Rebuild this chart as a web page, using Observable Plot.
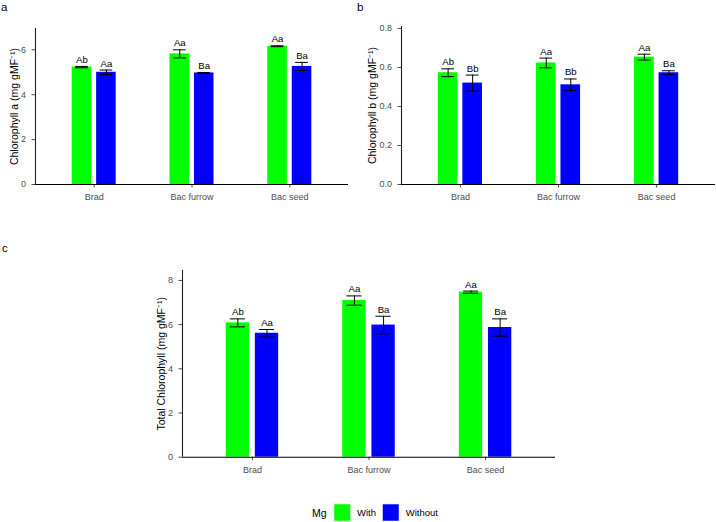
<!DOCTYPE html>
<html>
<head>
<meta charset="utf-8">
<script src="https://cdn.jsdelivr.net/npm/d3@7"></script>
<script src="https://cdn.jsdelivr.net/npm/@observablehq/plot@0.6"></script>
<style>
  html, body { margin: 0; padding: 0; background: #fff; }
  #fig { position: relative; width: 716px; height: 522px; overflow: hidden; background: #fff; }
  #fig .panel { position: absolute; }
  #fig svg.overlay { position: absolute; left: 0; top: 0; pointer-events: none; }
</style>
</head>
<body>
<div id="fig"></div>
<script>
// Treatments on the x axis and the two Mg levels
const categories = ["Brad", "Bac furrow", "Bac seed"];
const mgLevels = ["With", "Without"];
const mgColors = ["#00ff00", "#0000ff"];

// Chlorophyll a (mg gMF⁻¹): means, standard errors, letters
const chlA_with = [5.23, 5.82, 6.16];
const chlA_with_se = [0.03, 0.18, 0.02];
const chlA_with_lab = ["Ab", "Aa", "Aa"];
const chlA_without = [5.00, 4.97, 5.26];
const chlA_without_se = [0.10, 0.02, 0.18];
const chlA_without_lab = ["Aa", "Ba", "Ba"];

// Chlorophyll b
const chlB_with = [0.573, 0.623, 0.653];
const chlB_with_se = [0.02, 0.025, 0.015];
const chlB_with_lab = ["Ab", "Aa", "Aa"];
const chlB_without = [0.52, 0.511, 0.573];
const chlB_without_se = [0.041, 0.03, 0.01];
const chlB_without_lab = ["Bb", "Bb", "Ba"];

// Total chlorophyll
const tot_with = [6.08, 7.09, 7.47];
const tot_with_se = [0.18, 0.21, 0.05];
const tot_with_lab = ["Ab", "Aa", "Aa"];
const tot_without = [5.61, 5.98, 5.87];
const tot_without_se = [0.17, 0.40, 0.39];
const tot_without_lab = ["Aa", "Ba", "Ba"];

// Y-axis tick values
const ticksA = [0, 2, 4, 6];
const ticksB = [0, 0.2, 0.4, 0.6, 0.8];
const ticksT = [0, 2, 4, 6, 8];

const FONT = '"Liberation Sans", Arial, Helvetica, sans-serif';
const X_DOMAIN = [0.4, 3.6];   // discrete positions 1..3 with 0.6 padding
const DODGE = 0.25;            // distance between the two bars of a group
const BAR_W = 0.2;             // bar width in category units
const CAP_W = 0.13;            // error-bar cap width

function rows(wv, we, wl, ov, oe, ol) {
  const out = [];
  categories.forEach((c, i) => {
    out.push({category: c, index: i + 1, mg: mgLevels[0], value: wv[i], se: we[i], label: wl[i]});
    out.push({category: c, index: i + 1, mg: mgLevels[1], value: ov[i], se: oe[i], label: ol[i]});
  });
  return out;
}

const pos = d => d.index + (d.mg === mgLevels[0] ? -1 : 1) * DODGE / 2;

function panel({data, yDomain, yTicks, yFormat, yTitle, width, height, margins, titleDx}) {
  return Plot.plot({
    width, height,
    ...margins,
    style: {fontFamily: FONT, fontSize: "9px", background: "transparent", overflow: "visible"},
    x: {type: "linear", domain: X_DOMAIN, axis: null},
    y: {domain: yDomain, axis: null},
    color: {domain: mgLevels, range: mgColors},
    marks: [
      Plot.rectY(data, {
        x1: d => pos(d) - BAR_W / 2,
        x2: d => pos(d) + BAR_W / 2,
        y1: 0, y2: "value",
        fill: "mg", insetLeft: 0, insetRight: 0
      }),
      Plot.ruleX(data, {x: pos, y1: d => d.value - d.se, y2: d => d.value + d.se, stroke: "#000", strokeWidth: 1}),
      Plot.ruleY(data, {y: d => d.value + d.se, x1: d => pos(d) - CAP_W / 2, x2: d => pos(d) + CAP_W / 2, stroke: "#000", strokeWidth: 1}),
      Plot.ruleY(data, {y: d => d.value - d.se, x1: d => pos(d) - CAP_W / 2, x2: d => pos(d) + CAP_W / 2, stroke: "#000", strokeWidth: 1}),
      Plot.text(data, {
        x: pos, y: d => d.value + d.se, text: "label",
        lineAnchor: "bottom", dy: -3.5, fontSize: 9.6, fill: "#000"
      }),
      Plot.axisX({
        ticks: [1, 2, 3], tickFormat: v => categories[Math.round(v) - 1],
        tickSize: 3.5, tickPadding: 5.5, color: "#4d4d4d", fontSize: 9, label: null
      }),
      Plot.axisY({
        ticks: yTicks, tickFormat: yFormat,
        tickSize: 3.5, tickPadding: 6, color: "#4d4d4d", fontSize: 9, label: null
      }),
      Plot.ruleY([0], {stroke: "#000", strokeWidth: 1.1}),
      Plot.ruleX([X_DOMAIN[0]], {stroke: "#222", strokeWidth: 1.1}),
      Plot.text([yTitle], {
        frameAnchor: "left", textAnchor: "middle", lineAnchor: "middle",
        rotate: -90, dx: titleDx, fontSize: 10.5, fill: "#000"
      })
    ]
  });
}

const fig = document.getElementById("fig");

function place(node, left, top) {
  node.classList.add("panel");
  node.style.left = left + "px";
  node.style.top = top + "px";
  fig.appendChild(node);
}

place(panel({
  data: rows(chlA_with, chlA_with_se, chlA_with_lab, chlA_without, chlA_without_se, chlA_without_lab),
  yDomain: [0, 6.95], yTicks: ticksA, yFormat: d3.format("d"),
  yTitle: "Chlorophyll a (mg gMF⁻¹)",
  width: 358, height: 215,
  margins: {marginTop: 28, marginBottom: 31, marginLeft: 35, marginRight: 10},
  titleDx: -21
}), 0, 0);

place(panel({
  data: rows(chlB_with, chlB_with_se, chlB_with_lab, chlB_without, chlB_without_se, chlB_without_lab),
  yDomain: [0, 0.81], yTicks: ticksB, yFormat: d3.format(".1f"),
  yTitle: "Chlorophyll b (mg gMF⁻¹)",
  width: 358, height: 215,
  margins: {marginTop: 26, marginBottom: 31, marginLeft: 43, marginRight: 1},
  titleDx: -29
}), 358, 0);

place(panel({
  data: rows(tot_with, tot_with_se, tot_with_lab, tot_without, tot_without_se, tot_without_lab),
  yDomain: [0, 8.45], yTicks: ticksT, yFormat: d3.format("d"),
  yTitle: "Total Chlorophyll (mg gMF⁻¹)",
  width: 430, height: 260,
  margins: {marginTop: 40, marginBottom: 33.3, marginLeft: 42, marginRight: 15},
  titleDx: -21.3
}), 140, 230);

// Panel tags and the Mg legend
const overlay = d3.create("svg")
  .attr("class", "overlay")
  .attr("width", 716).attr("height", 522)
  .style("font-family", FONT);

const tags = [["a", 1, 10.5], ["b", 357, 10.5], ["c", 2, 252]];
overlay.selectAll("text.tag").data(tags).join("text")
  .attr("class", "tag")
  .attr("x", d => d[1]).attr("y", d => d[2])
  .attr("font-size", 11.5).attr("fill", "#000")
  .text(d => d[0]);

overlay.append("text")
  .attr("x", 312).attr("y", 516.7)
  .attr("font-size", 10.5).attr("fill", "#000")
  .text("Mg");

const keyX = [334, 382.5];
const keyLabelX = [357, 405.7];
const keys = overlay.selectAll("g.key").data(mgLevels).join("g").attr("class", "key");
keys.append("rect")
  .attr("x", (d, i) => keyX[i]).attr("y", 504)
  .attr("width", 16.5).attr("height", 17)
  .attr("fill", (d, i) => mgColors[i])
  .attr("stroke", "#e6e6e6").attr("stroke-width", 0.6);
keys.append("text")
  .attr("x", (d, i) => keyLabelX[i]).attr("y", 516.3)
  .attr("font-size", 9.5).attr("fill", "#000")
  .text(d => d);

fig.appendChild(overlay.node());
</script>
</body>
</html>
